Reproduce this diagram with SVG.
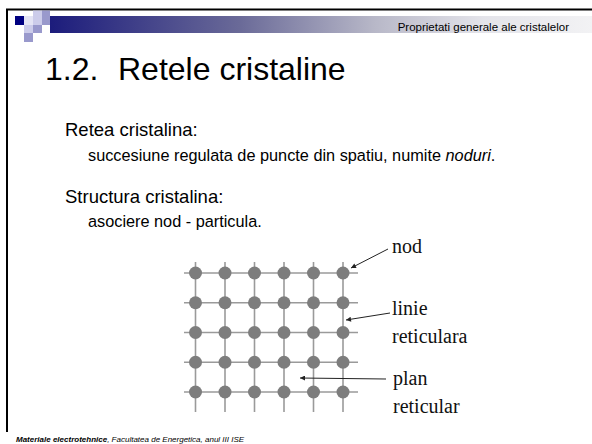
<svg xmlns="http://www.w3.org/2000/svg" width="592" height="444" viewBox="0 0 592 444">
<defs>
  <linearGradient id="hdr" x1="0" x2="1" y1="0" y2="0">
    <stop offset="0" stop-color="#1c1c7c"/>
    <stop offset="0.35" stop-color="#6a6a98"/>
    <stop offset="0.6" stop-color="#b8b8c8"/>
    <stop offset="0.8" stop-color="#e4e4ea"/>
    <stop offset="1" stop-color="#f2f2f4"/>
  </linearGradient>
  <marker id="ah" viewBox="0 0 10 10" refX="10" refY="5" markerWidth="8" markerHeight="5" orient="auto" markerUnits="userSpaceOnUse">
    <path d="M0,0 L10,5 L0,10 z" fill="#222"/>
  </marker>
</defs>
<style>
  .sans { font-family: "Liberation Sans", Arial, sans-serif; fill: #000; }
  .serif { font-family: "Liberation Serif", "Times New Roman", serif; font-size: 20px; fill: #111; }
  .h1 { font-size: 18.5px; }
  .h2 { font-size: 16.3px; }
  .gl { stroke: #9a9a9a; stroke-width: 1.6; }
  .dot { fill: #7d7d7d; }
  .arr { stroke: #222; stroke-width: 1; fill: none; marker-end: url(#ah); }
</style>
<rect x="0" y="0" width="592" height="444" fill="#fff"/>

<g id="frame">
  <line x1="6" y1="9.5" x2="592" y2="9.5" stroke="#000" stroke-width="2"/>
  <line x1="7" y1="9" x2="7" y2="432" stroke="#000" stroke-width="2"/>
  <rect x="50" y="16" width="542" height="17" fill="url(#hdr)"/>
  <rect x="15" y="16" width="9" height="9" fill="#000080"/>
  <rect x="24" y="16" width="9" height="9" fill="#e4e4f4"/>
  <rect x="33" y="10.5" width="9" height="5.5" fill="#ccccea"/>
  <rect x="42" y="10.5" width="8" height="5.5" fill="#9999cc"/>
  <rect x="33" y="16" width="9" height="9" fill="#ccccea"/>
  <rect x="42" y="16" width="8" height="9" fill="#9999cc"/>
  <rect x="24" y="25" width="9" height="8" fill="#ccccea"/>
  <rect x="33" y="25" width="9" height="8" fill="#9999cc"/>
  <rect x="24" y="33" width="9" height="9" fill="#9999cc"/>
  <text class="sans" x="569" y="31" font-size="11.5" text-anchor="end">Proprietati generale ale cristalelor</text>
</g>

<g id="title">
  <text class="sans" x="45" y="80" font-size="32">1.2.<tspan x="118">Retele cristaline</tspan></text>
</g>

<g id="body">
  <text class="sans h1" x="65" y="136">Retea cristalina:</text>
  <text class="sans h2" x="88" y="161">succesiune regulata de puncte din spatiu, numite <tspan font-style="italic">noduri</tspan>.</text>
  <text class="sans h1" x="65" y="203">Structura cristalina:</text>
  <text class="sans h2" x="88" y="227">asociere nod - particula.</text>
</g>

<g id="lattice">
  <g class="gl">
    <line x1="184" y1="273" x2="358" y2="273"/>
    <line x1="184" y1="302.75" x2="358" y2="302.75"/>
    <line x1="184" y1="332.5" x2="358" y2="332.5"/>
    <line x1="184" y1="362.25" x2="358" y2="362.25"/>
    <line x1="184" y1="392" x2="358" y2="392"/>
    <line x1="195.5" y1="262" x2="195.5" y2="412"/>
    <line x1="225" y1="262" x2="225" y2="412"/>
    <line x1="254.5" y1="262" x2="254.5" y2="412"/>
    <line x1="284" y1="262" x2="284" y2="412"/>
    <line x1="313.5" y1="262" x2="313.5" y2="412"/>
    <line x1="343" y1="262" x2="343" y2="412"/>
  </g>
  <g class="dot">
    <circle cx="195.5" cy="273" r="6.5"/><circle cx="225" cy="273" r="6.5"/><circle cx="254.5" cy="273" r="6.5"/><circle cx="284" cy="273" r="6.5"/><circle cx="313.5" cy="273" r="6.5"/><circle cx="343" cy="273" r="6.5"/>
    <circle cx="195.5" cy="302.75" r="6.5"/><circle cx="225" cy="302.75" r="6.5"/><circle cx="254.5" cy="302.75" r="6.5"/><circle cx="284" cy="302.75" r="6.5"/><circle cx="313.5" cy="302.75" r="6.5"/><circle cx="343" cy="302.75" r="6.5"/>
    <circle cx="195.5" cy="332.5" r="6.5"/><circle cx="225" cy="332.5" r="6.5"/><circle cx="254.5" cy="332.5" r="6.5"/><circle cx="284" cy="332.5" r="6.5"/><circle cx="313.5" cy="332.5" r="6.5"/><circle cx="343" cy="332.5" r="6.5"/>
    <circle cx="195.5" cy="362.25" r="6.5"/><circle cx="225" cy="362.25" r="6.5"/><circle cx="254.5" cy="362.25" r="6.5"/><circle cx="284" cy="362.25" r="6.5"/><circle cx="313.5" cy="362.25" r="6.5"/><circle cx="343" cy="362.25" r="6.5"/>
    <circle cx="195.5" cy="392" r="6.5"/><circle cx="225" cy="392" r="6.5"/><circle cx="254.5" cy="392" r="6.5"/><circle cx="284" cy="392" r="6.5"/><circle cx="313.5" cy="392" r="6.5"/><circle cx="343" cy="392" r="6.5"/>
  </g>
</g>

<g id="label-nod"><text class="serif" x="392" y="253">nod</text></g>
<g id="label-linie"><text class="serif" x="392" y="315">linie</text><text class="serif" x="392" y="343">reticulara</text></g>
<g id="label-plan"><text class="serif" x="393" y="385">plan</text><text class="serif" x="393" y="413">reticular</text></g>

<g id="connectors">
  <line class="arr" x1="388" y1="249" x2="351" y2="268"/>
  <line class="arr" x1="390" y1="313" x2="346" y2="320"/>
  <line class="arr" x1="386" y1="379" x2="300" y2="378"/>
</g>

<g id="footer">
  <text class="sans" x="16" y="442" font-size="8" font-style="italic"><tspan font-weight="bold">Materiale electrotehnice</tspan>, Facultatea de Energetica, anul III ISE</text>
</g>
</svg>
